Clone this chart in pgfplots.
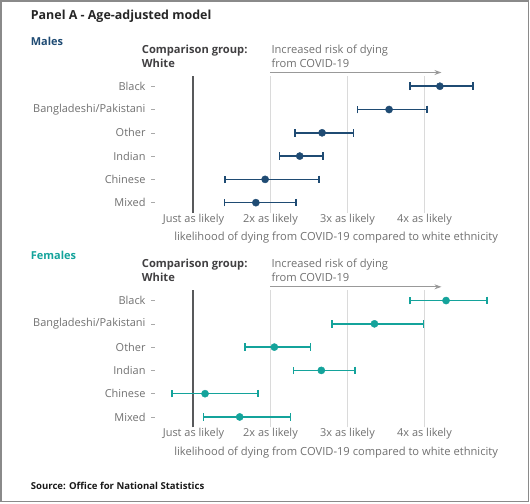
\documentclass[border=0pt]{standalone}
\usepackage{fontspec}
\setmainfont{Open Sans}
\usepackage{pgfplots}
\pgfplotsset{compat=1.18}
\usepackage{pgfplotstable}
\usetikzlibrary{arrows.meta}
\definecolor{navy}{HTML}{1F4B73}
\definecolor{tealc}{HTML}{14A39B}
\definecolor{tickgray}{HTML}{707070}
\definecolor{darktxt}{HTML}{414042}
\definecolor{gridc}{HTML}{DADADA}
\definecolor{refline}{HTML}{58595B}
\definecolor{arrowc}{HTML}{999999}
\definecolor{framec}{HTML}{8A8A8A}

% r: row (0 = Mixed ... 5 = Black), v: estimate, lo/hi: confidence interval
\pgfplotstableread{
r v lo hi
5 4.20 3.81 4.63
4 3.54 3.13 4.03
3 2.67 2.32 3.08
2 2.38 2.12 2.68
1 1.93 1.41 2.63
0 1.81 1.40 2.33
}\males
\pgfplotstableread{
r v lo hi
5 4.28 3.81 4.81
4 3.35 2.80 3.99
3 2.05 1.67 2.52
2 2.66 2.30 3.10
1 1.15 0.72 1.84
0 1.60 1.13 2.26
}\females

\pgfplotsset{panel/.style={
  scale only axis, width=346.5bp, height=139.7bp,
  xmin=0.5, xmax=5, ymin=-0.5, ymax=5.5,
  axis line style={draw=none},
  xtick={1,2,3,4},
  xticklabels={Just as likely, 2x as likely, 3x as likely, 4x as likely},
  ytick={0,1,2,3,4,5},
  yticklabels={Mixed,Chinese,Indian,Other,Bangladeshi/Pakistani,Black},
  x tick style={draw=none},
  y tick style={draw=tickgray!60, line width=0.6bp},
  major tick length=4bp, tick align=outside, ytick pos=left,
  ticklabel style={font=\fontsize{11}{13}\selectfont, text=tickgray},
  yticklabel style={xshift=-2bp},
  xticklabel style={anchor=base, yshift=-4bp},
  xlabel={likelihood of dying from COVID-19 compared to white ethnicity},
  xlabel style={at={(rel axis cs:1,0)}, anchor=base east, yshift=-26.4bp,
    font=\fontsize{11.2}{13}\selectfont, text=tickgray},
  clip=false,
}}

\begin{document}
\begin{tikzpicture}
\path (0bp,0bp) rectangle (530bp,-504bp);
\draw[framec, line width=1.2bp] (1bp,-1bp) rectangle (528.3bp,-501.7bp);

\node[anchor=base west, font=\bfseries\fontsize{12.5}{15}\selectfont, text=black!85, inner sep=0] at (30.7bp,-19.2bp) {Panel A - Age-adjusted model};
\node[anchor=base west, font=\bfseries\fontsize{11}{13}\selectfont, text=navy, inner sep=0] at (30.7bp,-45.7bp) {Males};
\node[anchor=base west, font=\bfseries\fontsize{11}{13}\selectfont, text=tealc, inner sep=0] at (30.7bp,-259.9bp) {Females};
\node[anchor=base west, font=\bfseries\fontsize{9.6}{11}\selectfont, text=black!90, inner sep=0] at (30.7bp,-489.5bp) {Source: Office for National Statistics};

\foreach \dy in {0,214.3} {
  \node[anchor=base west, font=\bfseries\fontsize{11.2}{13}\selectfont, text=darktxt, inner sep=0] at (141.7bp,-53.6bp-\dy bp) {Comparison group:};
  \node[anchor=base west, font=\bfseries\fontsize{11.2}{13}\selectfont, text=darktxt, inner sep=0] at (141.7bp,-67bp-\dy bp) {White};
  \node[anchor=base west, font=\fontsize{11.2}{13}\selectfont, text=tickgray, inner sep=0] at (271.3bp,-53.6bp-\dy bp) {Increased risk of dying};
  \node[anchor=base west, font=\fontsize{11.2}{13}\selectfont, text=tickgray, inner sep=0] at (271.3bp,-67bp-\dy bp) {from COVID-19};
}

\begin{axis}[panel, at={(155bp,-214.3bp)}, anchor=south west]
  \foreach \g in {2,3,4} {\edef\tmp{\noexpand\draw[gridc, line width=1bp] (axis cs:\g,-0.45) -- (axis cs:\g,5.45);}\tmp}
  \draw[refline, line width=2bp] (axis cs:1,-0.45) -- (axis cs:1,5.45);
  \draw[arrowc, line width=1bp, -{Stealth[length=7bp,width=5bp]}] (axis cs:2,5.59) -- (axis cs:4.22,5.59);
  \addplot[only marks, navy, mark=*, mark size=3.6bp, mark options={fill=navy, draw=navy},
    error bars/.cd, x dir=both, x explicit, error mark=|,
    error bar style={line width=1.6bp, navy},
    error mark options={mark size=3.8bp, line width=1.5bp, navy}]
    table[x=v, y=r, x error minus expr=\thisrow{v}-\thisrow{lo}, x error plus expr=\thisrow{hi}-\thisrow{v}] {\males};
\end{axis}

\begin{axis}[panel, at={(155bp,-428.6bp)}, anchor=south west]
  \foreach \g in {2,3,4} {\edef\tmp{\noexpand\draw[gridc, line width=1bp] (axis cs:\g,-0.45) -- (axis cs:\g,5.45);}\tmp}
  \draw[refline, line width=2bp] (axis cs:1,-0.45) -- (axis cs:1,5.45);
  \draw[arrowc, line width=1bp, -{Stealth[length=7bp,width=5bp]}] (axis cs:2,5.59) -- (axis cs:4.22,5.59);
  \addplot[only marks, tealc, mark=*, mark size=3.6bp, mark options={fill=tealc, draw=tealc},
    error bars/.cd, x dir=both, x explicit, error mark=|,
    error bar style={line width=1.6bp, tealc},
    error mark options={mark size=3.8bp, line width=1.5bp, tealc}]
    table[x=v, y=r, x error minus expr=\thisrow{v}-\thisrow{lo}, x error plus expr=\thisrow{hi}-\thisrow{v}] {\females};
\end{axis}
\end{tikzpicture}
\end{document}
